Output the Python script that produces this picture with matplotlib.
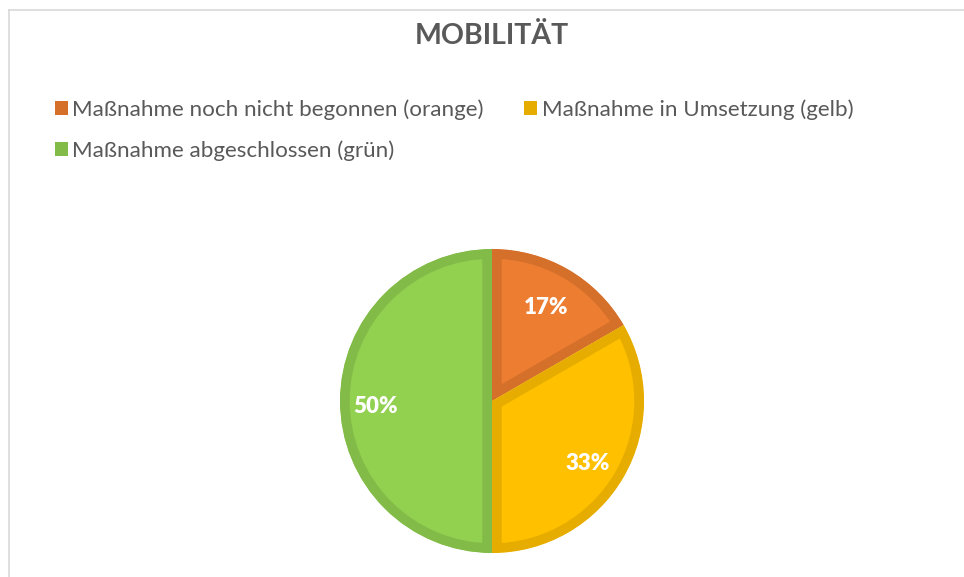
import matplotlib.pyplot as plt
import matplotlib.transforms as mtransforms
from matplotlib.patches import Patch
from matplotlib.lines import Line2D

# data
categories = ['Maßnahme noch nicht begonnen (orange)',
              'Maßnahme in Umsetzung (gelb)',
              'Maßnahme abgeschlossen (grün)']
counts = [1, 2, 3]
fill_colors = ['#ED7D31', '#FFC000', '#92D050']
edge_colors = ['#D5702B', '#E6AD00', '#83BB48']
title = 'MOBILITÄT'

plt.rcParams['font.family'] = ['Lato', 'DejaVu Sans']
text_grey = '#595959'

W, H = 964, 577
fig = plt.figure(figsize=(W / 100, H / 100), dpi=100)

# chart frame (top and left edge visible)
fig.add_artist(Line2D([9 / W, 9 / W], [0, 1 - 10 / H], color='#D9D9D9', lw=1.2))
fig.add_artist(Line2D([9 / W, 1], [1 - 10 / H, 1 - 10 / H], color='#D9D9D9', lw=1.2))

fig.text(492 / W, 1 - 36 / H, title, ha='center', va='center',
         fontsize=20.5, fontweight='bold', color=text_grey)

# pie
cx, cy, r = 492, 401, 152
ax = fig.add_axes([(cx - r) / W, (H - cy - r) / H, 2 * r / W, 2 * r / H])
wedges, texts, autotexts = ax.pie(
    counts, colors=fill_colors, startangle=90, counterclock=False,
    autopct='%1.0f%%', pctdistance=0.75, radius=1,
    wedgeprops=dict(linewidth=14),
    textprops=dict(color='white', fontsize=16, fontweight='heavy'))
for w, ec in zip(wedges, edge_colors):
    w.set_edgecolor(ec)
    w.set_joinstyle('miter')
    w.set_clip_on(True)
    w.set_clip_path(w)
# labels sit a little lower than the geometric default
shift = mtransforms.ScaledTranslation(-2 / 72, -4 / 72, fig.dpi_scale_trans)
for t in autotexts:
    t.set_transform(t.get_transform() + shift)
ax.set_xlim(-1, 1)
ax.set_ylim(-1, 1)
ax.set_aspect('equal')

# legend: row 1 -> first two, row 2 -> third
handles = [Patch(facecolor=ec, edgecolor='none') for ec in edge_colors]
order = [0, 2, 1]
leg = fig.legend([handles[i] for i in order], [categories[i] for i in order],
                 loc='upper left', bbox_to_anchor=(55 / W, 1 - 99 / H),
                 ncol=2, frameon=False, fontsize=16.1,
                 handlelength=0.58, handleheight=0.58, handletextpad=0.2,
                 columnspacing=1.8, labelspacing=0.92, borderpad=0, borderaxespad=0)
for t in leg.get_texts():
    t.set_color(text_grey)

fig.savefig('out.png', dpi=100)
